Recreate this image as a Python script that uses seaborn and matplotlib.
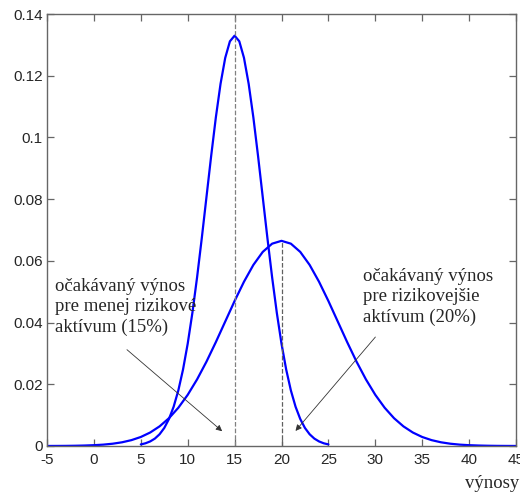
import numpy as np
import pandas as pd
import seaborn as sns
import matplotlib
matplotlib.use('Agg')
import matplotlib.pyplot as plt

# menej rizikove aktivum (stred 15), odcitane z grafu po 0.5
x_low = [5.0, 5.5, 6.0, 6.5, 7.0, 7.5, 8.0, 8.5, 9.0, 9.5, 10.0, 10.5, 11.0, 11.5,
         12.0, 12.5, 13.0, 13.5, 14.0, 14.5, 15.0, 15.5, 16.0, 16.5, 17.0, 17.5,
         18.0, 18.5, 19.0, 19.5, 20.0, 20.5, 21.0, 21.5, 22.0, 22.5, 23.0, 23.5,
         24.0, 24.5, 25.0]
y_low = [0.00051, 0.00088, 0.00148, 0.00240, 0.00380, 0.00584, 0.00874, 0.01272,
         0.01800, 0.02477, 0.03316, 0.04317, 0.05467, 0.06733, 0.08066, 0.09397,
         0.10648, 0.11736, 0.12579, 0.13115, 0.13298, 0.13115, 0.12579, 0.11736,
         0.10648, 0.09397, 0.08066, 0.06733, 0.05467, 0.04317, 0.03316, 0.02477,
         0.01800, 0.01272, 0.00874, 0.00584, 0.00380, 0.00240, 0.00148, 0.00088,
         0.00051]

# rizikovejsie aktivum (stred 20)
x_high = list(range(-5, 46))
y_half = [0.06649, 0.06557, 0.06290, 0.05868, 0.05324, 0.04699, 0.04033, 0.03367,
          0.02733, 0.02159, 0.01658, 0.01239, 0.00900, 0.00636, 0.00437, 0.00292,
          0.00190, 0.00120, 0.00074, 0.00044, 0.00026, 0.00015, 0.00008, 0.00004,
          0.00002, 0.00001]
y_high = y_half[::-1] + y_half[1:]

mean_low, peak_low = 15, 0.14
mean_high, peak_high = 20, 0.0665

x_ticks = list(range(-5, 46, 5))
y_ticks = [0, 0.02, 0.04, 0.06, 0.08, 0.1, 0.12, 0.14]
y_labels = ['0', '0.02', '0.04', '0.06', '0.08', '0.1', '0.12', '0.14']

text_low = 'očakávaný výnos\npre menej rizikové\naktívum (15%)'
text_high = 'očakávaný výnos\npre rizikovejšie\naktívum (20%)'

sns.set_style('ticks')
plt.rcParams['font.family'] = ['Liberation Sans', 'DejaVu Sans']
plt.rcParams['axes.unicode_minus'] = False
plt.rcParams['xtick.direction'] = 'in'
plt.rcParams['ytick.direction'] = 'in'

fig = plt.figure(figsize=(5.2, 4.95), dpi=100)
ax = fig.add_axes([0.0904, 0.099, 0.9019, 0.8727])

df = pd.concat([
    pd.DataFrame({'x': x_low, 'y': y_low, 's': 'low'}),
    pd.DataFrame({'x': x_high, 'y': y_high, 's': 'high'}),
])
sns.lineplot(data=df, x='x', y='y', units='s', estimator=None, color='#0000ff',
             lw=1.6, ax=ax, sort=False)

ax.plot([mean_low, mean_low], [0, peak_low], ls='--', color='#808080', lw=0.9)
ax.plot([mean_high, mean_high], [0, peak_high], ls='--', color='#606060', lw=0.9)

serif = ['Liberation Serif', 'DejaVu Serif']
ax.text(-4.2, 0.045, text_low, family=serif, fontsize=13.5, ha='left', va='center',
        linespacing=1.25)
ax.text(28.7, 0.0483, text_high, family=serif, fontsize=13.5, ha='left', va='center',
        linespacing=1.25)

arrow = dict(arrowstyle='-|>', color='#333333', lw=0.6, mutation_scale=9)
ax.annotate('', xy=(13.9, 0.0042), xytext=(3.3, 0.0318), arrowprops=arrow)
ax.annotate('', xy=(21.3, 0.0042), xytext=(30.2, 0.036), arrowprops=arrow)

ax.set_xlim(-5, 45)
ax.set_ylim(0, 0.14)
ax.set_xticks(x_ticks)
ax.set_yticks(y_ticks)
ax.set_yticklabels(y_labels)
ax.set_xlabel('')
ax.set_ylabel('')
ax.tick_params(axis='both', labelsize=11, length=5, width=0.9, color='#666666',
               top=True, right=True, pad=3)
ax.tick_params(axis='x', pad=5)
for sp in ax.spines.values():
    sp.set_visible(True)
    sp.set_color('#666666')
    sp.set_linewidth(1.0)

fig.text(519 / 520, 1 - 483 / 495, 'výnosy', family=serif, fontsize=13.5,
         ha='right', va='center')

fig.savefig('out.png', dpi=100)
